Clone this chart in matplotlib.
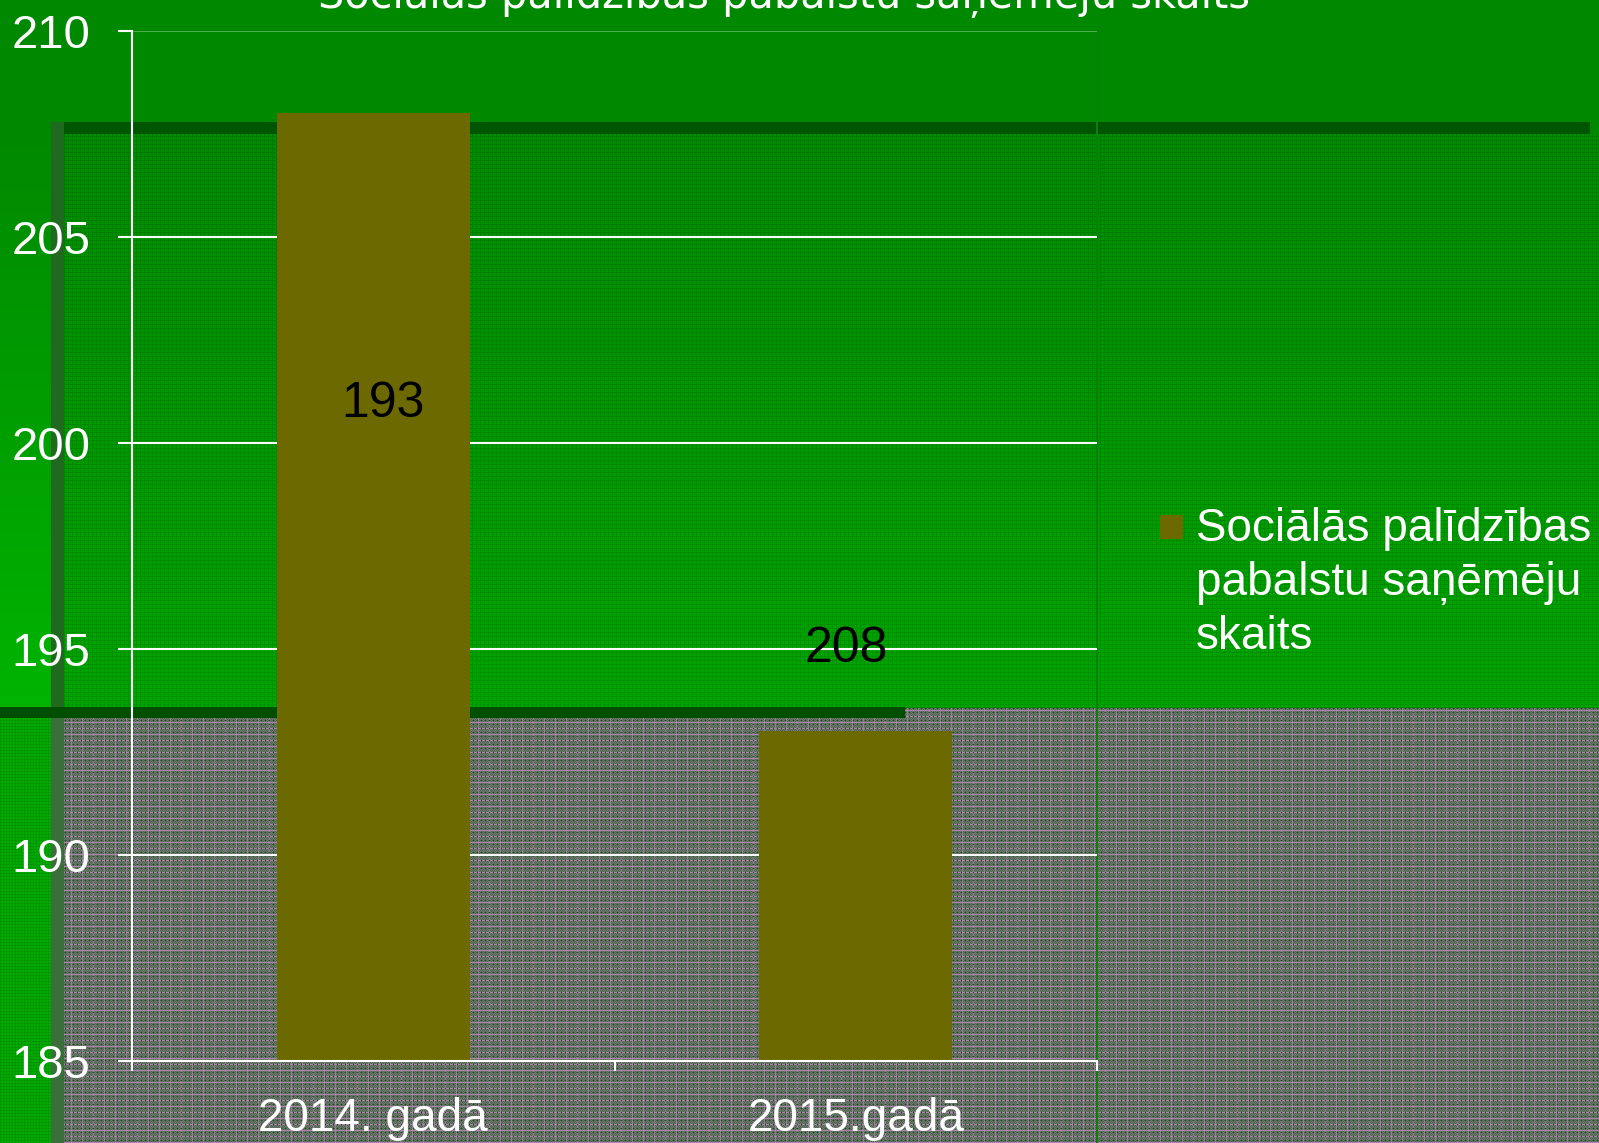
import numpy as np
import matplotlib
matplotlib.use('Agg')
import matplotlib.pyplot as plt
from matplotlib.patches import Rectangle
from matplotlib.lines import Line2D

# ---- data ----
categories = ["2014. gadā", "2015.gadā"]
bar_values = [208, 193]
bar_labels = ["193", "208"]
series_name = "Sociālās palīdzības\npabalstu saņēmēju\nskaits"
title_text = "Sociālās palīdzības pabalstu saņēmēju skaits"
y_ticks = [185, 190, 195, 200, 205, 210]

# ---- style ----
W, H, DPI = 1599, 1143, 100
BAR_COLOR = '#6c6900'
plt.rcParams['font.family'] = ['Liberation Sans', 'DejaVu Sans']


def rgb(h):
    return np.array([int(h[i:i + 2], 16) for i in (1, 3, 5)], float) / 255


# ---- slide background ----
bg = np.zeros((H, W, 3))
bg[:] = rgb('#008800')
R = np.arange(H)[:, None]
C = np.arange(W)[None, :]

# left bright strip (gradient)
t = np.clip((np.arange(H) - 120) / (707 - 120), 0, 1)
grad_left = (1 - t)[:, None] * rgb('#008800') + t[:, None] * rgb('#00b400')
bg[:707, :51] = grad_left[:707, None, :]

# green textured panel
t2 = np.clip((np.arange(H) - 134) / (707 - 134), 0, 1)
grad_panel = (1 - t2)[:, None] * rgb('#008c00') + t2[:, None] * rgb('#00a600')
panel = np.repeat(grad_panel[:, None, :], W, axis=1)
tex = ((R % 4 == 0) | (C % 4 == 0))
panel = panel - tex[:, :, None] * np.array([0, 0.07, 0])
bg[134:707, 64:] = panel[134:707, 64:]

# dark strips / bands
bg[122:707, 51:64] = rgb('#1f6a1f')
bg[122:134, 64:1590] = rgb('#005600')

# gray textured lower area
base_a = rgb('#4a664a')
base_b = rgb('#747874')
chk = ((R + C) % 2 == 0)
gray = np.where(chk[:, :, None], base_a, base_b)
pink_r = (R % 6 == 2) & np.ones_like(C, bool)
pink_c = (C % 11 == 5) & np.ones_like(R, bool)
gray = np.where(pink_r[:, :, None], 0.65 * rgb('#d88cd8') + 0.35 * gray, gray)
gray = np.where(pink_c[:, :, None], 0.5 * gray + 0.5 * rgb('#c88cc8'), gray)
dark = (R % 4 == 0) & (C % 4 == 1)
gray = np.where(dark[:, :, None], rgb('#1f461f'), gray)
bg[708:, 64:] = gray[708:, 64:]

# lower left green strips
lg = np.repeat(np.repeat(rgb('#00ac00')[None, None, :], H, 0), W, 1)
lg = lg - ((R % 3 == 0) | (C % 3 == 0))[:, :, None] * np.array([0, 0.08, 0])
bg[718:, :51] = lg[718:, :51]
bg[718:, 51:64] = rgb('#3a6e3a')
bg[707:718, :905] = rgb('#004f00')

fig = plt.figure(figsize=(W / DPI, H / DPI), dpi=DPI)
fig.patch.set_facecolor('#008800')
fig.figimage(bg, 0, 0, origin='upper', zorder=-10)

# ---- axes ----
ax_left, ax_right, ax_top, ax_bottom = 132, 1097, 31, 1061
ax = fig.add_axes([ax_left / W, 1 - ax_bottom / H,
                   (ax_right - ax_left) / W, (ax_bottom - ax_top) / H])
ax.patch.set_alpha(0)
ax.set_zorder(2)

x = np.arange(len(categories))
bars = ax.bar(x, bar_values, width=0.4, color=BAR_COLOR, zorder=2)

ax.set_xlim(-0.5, len(categories) - 0.5)
ax.set_ylim(y_ticks[0], y_ticks[-1])
ax.set_yticks(y_ticks)
ax.set_yticklabels([str(v) for v in y_ticks])
ax.set_xticks(x)
ax.set_xticklabels(categories)
ax.set_xticks(np.arange(len(categories) + 1) - 0.5, minor=True)

ax.tick_params(axis='y', colors='white', labelsize=34, length=10, width=1.5,
               direction='out', pad=20)
ax.tick_params(axis='x', which='major', colors='white', labelsize=33,
               length=0, pad=26)
ax.tick_params(axis='x', which='minor', colors='white', length=7.5,
               width=1.5, direction='out')

for s in ('top', 'right'):
    ax.spines[s].set_visible(False)
for s in ('left', 'bottom'):
    ax.spines[s].set_color('white')
    ax.spines[s].set_linewidth(1.5)
    ax.spines[s].set_zorder(3)

ax.set_axisbelow(True)
ax.yaxis.grid(True, color='white', linewidth=1.5)
gls = ax.yaxis.get_gridlines()
gls[-1].set_alpha(0.3)

# data labels
label_dx = [0.02, -0.02]
label_dy = [-7.05, 2.0]
for i, (v, lab) in enumerate(zip(bar_values, bar_labels)):
    ax.text(x[i] + label_dx[i], v + label_dy[i], lab, ha='center',
            va='center', fontsize=36, color='black', zorder=4)

# right border line of the plot area
fig.add_artist(Line2D([ax_right / W, ax_right / W], [0, 1 - ax_top / H],
                      transform=fig.transFigure, color='#0b7f0b', lw=1.5,
                      zorder=1))

# legend
fig.add_artist(Rectangle((1160 / W, 1 - 539 / H), 23 / W, 24 / H,
                         transform=fig.transFigure, facecolor=BAR_COLOR,
                         edgecolor='none', zorder=3))
fig.text(1196 / W, 1 - 649 / H, series_name, ha='left', va='baseline',
         fontsize=33, color='white', linespacing=1.30, zorder=3)

# title (cropped at top of slide)
tt = fig.text(784 / W, 1 - 8 / H, title_text, ha='center', va='baseline',
              fontsize=30, color='white', family=['DejaVu Sans'], zorder=3)
fig.canvas.draw()
wpx = tt.get_window_extent(fig.canvas.get_renderer()).width
tt.set_fontsize(30 * 932 / wpx)

fig.savefig('out.png', dpi=DPI)
